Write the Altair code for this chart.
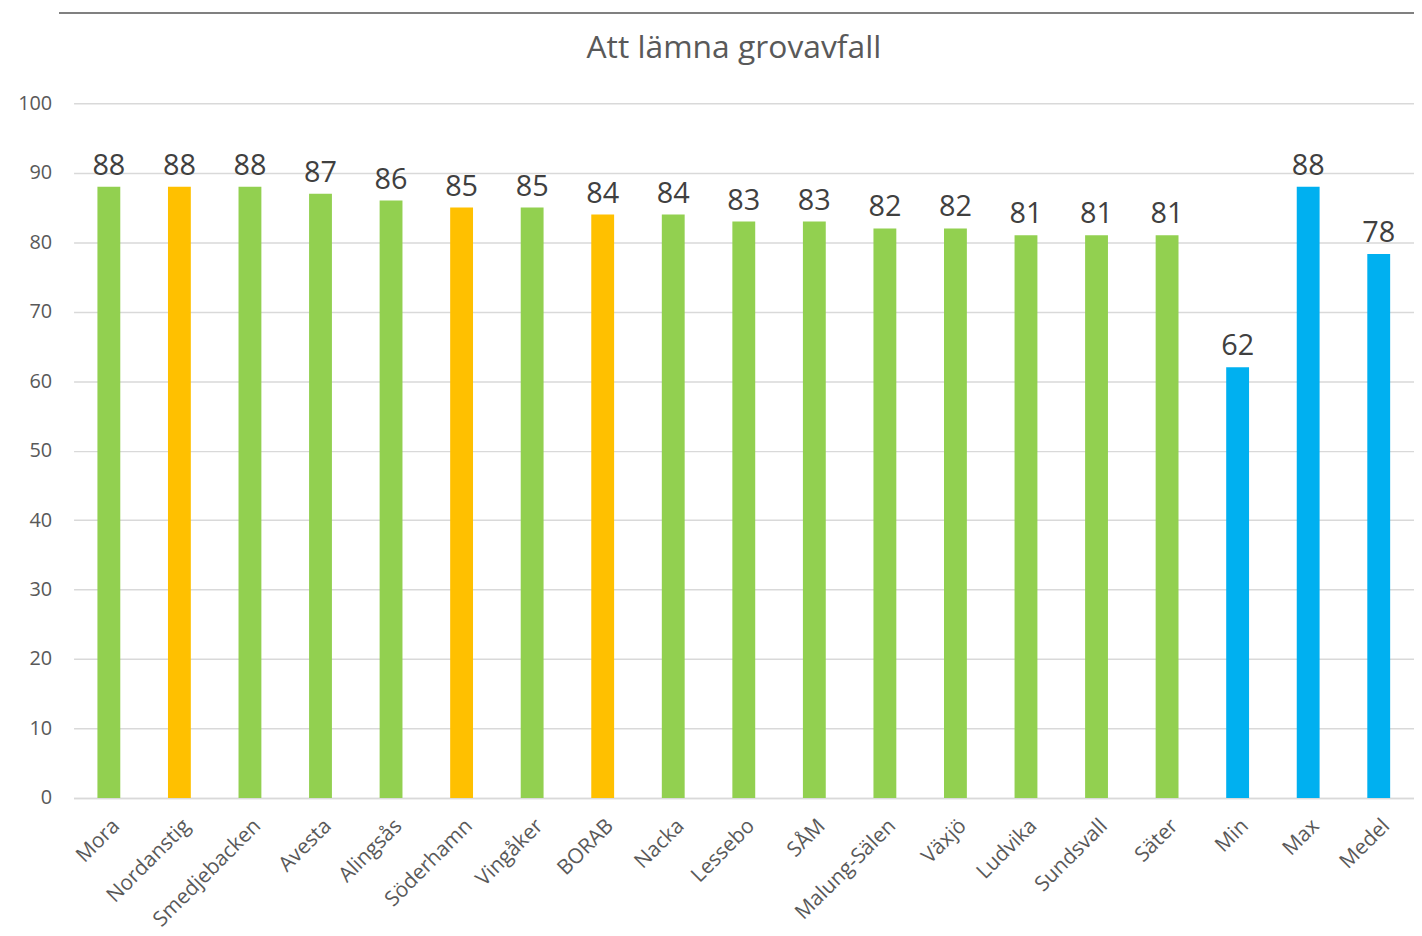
import altair as alt
import pandas as pd

categories = ["Mora", "Nordanstig", "Smedjebacken", "Avesta", "Alingsås", "Söderhamn",
              "Vingåker", "BORAB", "Nacka", "Lessebo", "SÅM", "Malung-Sälen", "Växjö",
              "Ludvika", "Sundsvall", "Säter", "Min", "Max", "Medel"]
values = [88, 88, 88, 87, 86, 85, 85, 84, 84, 83, 83, 82, 82, 81, 81, 81, 62, 88, 78.3]
groups = ["g", "o", "g", "g", "g", "o", "g", "o", "g", "g", "g", "g", "g", "g", "g", "g",
          "b", "b", "b"]
labels = [str(round(v)) for v in values]

df = pd.DataFrame({"cat": categories, "val": values, "grp": groups, "lab": labels})

FONT = "Open Sans"
x = alt.X("cat:N", sort=categories, title=None,
          axis=alt.Axis(labelAngle=-45, labelFontSize=21, labelColor="#595959",
                        labelFont=FONT, ticks=False, domainColor="#d9d9d9",
                        domainWidth=1.5, labelPadding=17, labelAlign="right",
                        labelBaseline="top"))
y = alt.Y("val:Q", title=None, scale=alt.Scale(domain=[0, 100]),
          axis=alt.Axis(values=list(range(0, 101, 10)), labelFontSize=20,
                        labelColor="#595959", labelFont=FONT, ticks=False,
                        domain=False, gridColor="#d9d9d9", gridWidth=1.5,
                        labelPadding=22))

bars = alt.Chart(df).mark_bar(size=23).encode(
    x=x, y=y,
    color=alt.Color("grp:N", scale=alt.Scale(domain=["g", "o", "b"],
                                              range=["#92D050", "#FFC000", "#00B0F0"]),
                    legend=None))
text = alt.Chart(df).mark_text(baseline="bottom", dy=-6, fontSize=29,
                               color="#404040", font=FONT).encode(
    x=alt.X("cat:N", sort=categories), y="val:Q", text="lab:N")
border = alt.Chart(df).mark_rule(color="#808080", strokeWidth=2, clip=False).encode(
    x=alt.value(-14), x2=alt.value(1360), y=alt.value(-91))

chart = alt.layer(bars, text, border).properties(
    width=1349, height=699,
    title=alt.TitleParams("Att lämna grovavfall", fontSize=32, font=FONT,
                          color="#595959", fontWeight="normal", offset=-53,
                          anchor="middle", dx=-10, frame="group"),
    autosize=alt.AutoSizeParams(type="none"),
    padding={"left": 66, "top": 93, "right": 0, "bottom": 135},
).configure_view(stroke=None)

chart.save("out.html", embed_options={"renderer": "svg", "actions": False})
